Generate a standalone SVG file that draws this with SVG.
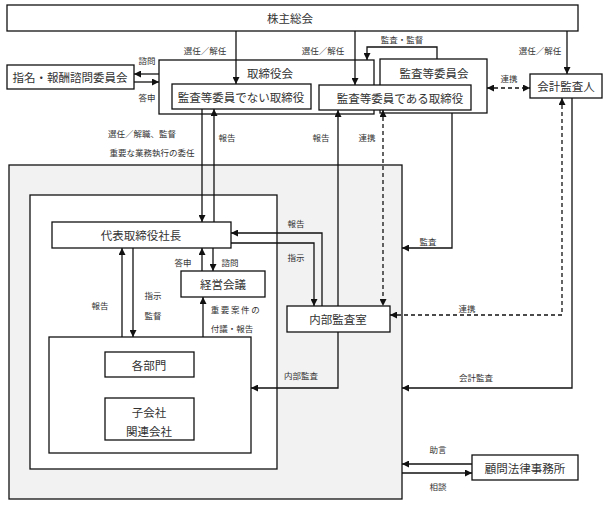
<svg xmlns="http://www.w3.org/2000/svg" width="608" height="505" viewBox="0 0 608 505">
<style>
.b{fill:#fff;stroke:#111;stroke-width:1.3}
.t{font-family:"Noto Sans CJK JP","Noto Sans",sans-serif;font-size:11.5px;fill:#333;text-anchor:middle;dominant-baseline:central}
.l{font-family:"Noto Sans CJK JP","Noto Sans",sans-serif;font-size:8.5px;fill:#333;text-anchor:middle;dominant-baseline:central}
.c{fill:none;stroke:#111;stroke-width:1.3}
.d{stroke-dasharray:4,3}
</style>
<defs>
<marker id="ah" viewBox="0 0 10 10" refX="10" refY="5" markerWidth="7" markerHeight="7" orient="auto-start-reverse" markerUnits="userSpaceOnUse"><path d="M0,0 L10,5 L0,10z" fill="#111"/></marker>
</defs>
<rect x="0" y="0" width="608" height="505" fill="#fff"/>
<g id="group-outer"><rect x="9" y="165" width="393" height="334" fill="#f2f2f2" stroke="#111" stroke-width="1.3"/></g>
<g id="group-inner"><rect class="b" x="30" y="195" width="247" height="274"/></g>
<g id="shareholders"><rect class="b" x="7" y="5" width="571" height="26"/><text class="t" x="290" y="18">株主総会</text></g>
<g id="nomination"><rect class="b" x="7" y="65" width="127" height="24"/><text class="t" x="70" y="77">指名・報酬諮問委員会</text></g>
<g id="board"><rect class="b" x="159" y="60" width="215" height="54"/><text class="t" x="270" y="73">取締役会</text></g>
<g id="audit-committee"><rect class="b" x="380" y="59" width="107" height="54"/><text class="t" x="434" y="73">監査等委員会</text></g>
<g id="non-audit-directors"><rect class="b" x="172" y="84" width="139" height="25"/><text class="t" x="241" y="97">監査等委員でない取締役</text></g>
<g id="audit-directors"><rect class="b" x="319" y="85" width="152" height="25"/><text class="t" x="400" y="98">監査等委員である取締役</text></g>
<g id="accounting-auditor"><rect class="b" x="530" y="74" width="72" height="24"/><text class="t" x="566" y="86">会計監査人</text></g>
<g id="president"><rect class="b" x="52" y="222" width="179" height="26"/><text class="t" x="141" y="235">代表取締役社長</text></g>
<g id="management-meeting"><rect class="b" x="181" y="271" width="84" height="26"/><text class="t" x="223" y="284">経営会議</text></g>
<g id="internal-audit"><rect class="b" x="287" y="306" width="103" height="26"/><text class="t" x="338" y="319">内部監査室</text></g>
<g id="departments-group"><rect class="b" x="49" y="337" width="202" height="116"/></g>
<g id="departments"><rect class="b" x="105" y="352" width="89" height="25"/><text class="t" x="149" y="365">各部門</text></g>
<g id="subsidiaries"><rect class="b" x="105" y="398" width="89" height="42"/><text class="t" x="149" y="412">子会社</text><text class="t" x="149" y="431">関連会社</text></g>
<g id="law-firm"><rect class="b" x="472" y="455" width="106" height="25"/><text class="t" x="525" y="468">顧問法律事務所</text></g>
<g id="connectors">
<path class="c" d="M236,31V84" marker-end="url(#ah)"/>
<path class="c" d="M355,31V85" marker-end="url(#ah)"/>
<path class="c" d="M567,31V74" marker-end="url(#ah)"/>
<path class="c" d="M437,59V47H367V60" marker-end="url(#ah)"/>
<path class="c d" d="M487,88H530" marker-start="url(#ah)" marker-end="url(#ah)"/>
<path class="c" d="M159,74H134" marker-end="url(#ah)"/>
<path class="c" d="M134,82H159" marker-end="url(#ah)"/>
<path class="c" d="M202,109V222" marker-end="url(#ah)"/>
<path class="c" d="M214,222V109" marker-end="url(#ah)"/>
<path class="c" d="M338,306V110" marker-end="url(#ah)"/>
<path class="c d" d="M383,110V306" marker-start="url(#ah)" marker-end="url(#ah)"/>
<path class="c" d="M452,113V248H402" marker-end="url(#ah)"/>
<path class="c d" d="M562,98V315H390" marker-start="url(#ah)" marker-end="url(#ah)"/>
<path class="c" d="M572,98V388H402" marker-end="url(#ah)"/>
<path class="c" d="M322,306V233H231" marker-end="url(#ah)"/>
<path class="c" d="M231,243H314V306" marker-end="url(#ah)"/>
<path class="c" d="M202,271V248" marker-end="url(#ah)"/>
<path class="c" d="M213,248V271" marker-end="url(#ah)"/>
<path class="c" d="M203,337V297" marker-end="url(#ah)"/>
<path class="c" d="M122,337V248" marker-end="url(#ah)"/>
<path class="c" d="M133,248V337" marker-end="url(#ah)"/>
<path class="c" d="M338,332V388H251" marker-end="url(#ah)"/>
<path class="c" d="M472,464H402" marker-end="url(#ah)"/>
<path class="c" d="M402,473H472" marker-end="url(#ah)"/>
</g>
<g id="labels">
<text class="l" x="205" y="50">選任／解任</text>
<text class="l" x="323" y="50">選任／解任</text>
<text class="l" x="540" y="50">選任／解任</text>
<text class="l" x="402" y="39">監査・監督</text>
<text class="l" x="509" y="78">連携</text>
<text class="l" x="147" y="60">諮問</text>
<text class="l" x="147" y="97">答申</text>
<text class="l" x="142" y="133">選任／解職、監督</text>
<text class="l" x="152" y="152">重要な業務執行の委任</text>
<text class="l" x="227" y="137">報告</text>
<text class="l" x="321" y="137">報告</text>
<text class="l" x="367" y="137">連携</text>
<text class="l" x="428" y="241">監査</text>
<text class="l" x="296" y="223">報告</text>
<text class="l" x="296" y="257">指示</text>
<text class="l" x="183" y="262">答申</text>
<text class="l" x="230" y="262">諮問</text>
<text class="l" x="236" y="309" style="letter-spacing:1.6px">重要案件の</text>
<text class="l" x="232" y="328">付議・報告</text>
<text class="l" x="100" y="305">報告</text>
<text class="l" x="153" y="295">指示</text>
<text class="l" x="153" y="315">監督</text>
<text class="l" x="301" y="375">内部監査</text>
<text class="l" x="467" y="308">連携</text>
<text class="l" x="476" y="377">会計監査</text>
<text class="l" x="438" y="449">助言</text>
<text class="l" x="438" y="486">相談</text>
</g>
</svg>
